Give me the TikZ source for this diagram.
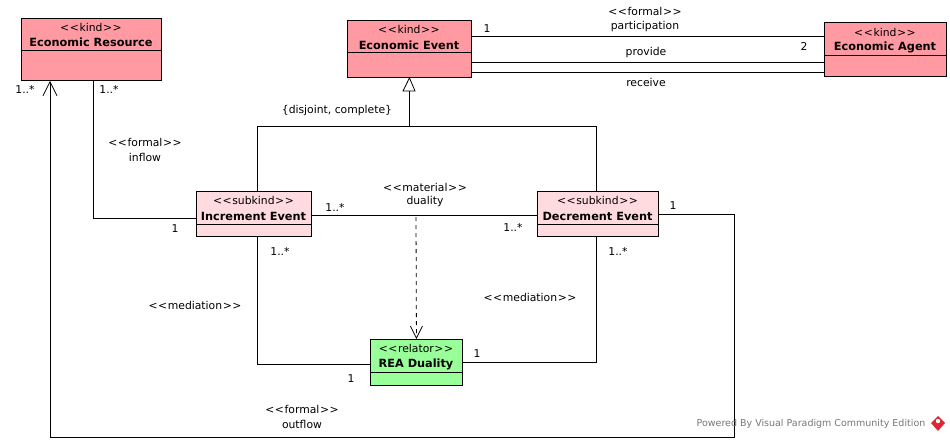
\documentclass[tikz,border=0pt]{standalone}
\usepackage{fontspec}
\setmainfont{DejaVu Sans}
\usetikzlibrary{arrows.meta}
\definecolor{kindfill}{RGB}{255,154,162}
\definecolor{subfill}{RGB}{255,218,222}
\definecolor{relfill}{RGB}{153,255,153}
\definecolor{wmgray}{RGB}{120,120,120}
\definecolor{wmred}{RGB}{220,40,50}
\newcommand{\stlt}{<\kern0.6pt{}<\kern0.6pt{}}
\newcommand{\stgt}{\kern0.6pt{}>\kern0.6pt{}>}
\begin{document}
\begin{tikzpicture}[x=1pt,y=-1pt,
  box/.style={draw=black,line width=0.9pt,anchor=north west,inner sep=0pt},
  kindbox/.style={box,fill=kindfill},
  subbox/.style={box,fill=subfill},
  relbox/.style={box,fill=relfill},
  ster/.style={font=\fontsize{10.8}{12}\selectfont,inner sep=0pt},
  cname/.style={font=\fontsize{11.3}{12}\selectfont\bfseries,inner sep=0pt},
  lbl/.style={font=\fontsize{10.8}{12}\selectfont,inner sep=0pt},
  conn/.style={draw=black,line width=0.8pt},
  every node/.append style={text=black}]
\useasboundingbox (0,0) rectangle (950,441);
\fill[white] (0,0) rectangle (950,441);

% ---- classes ----
\node[kindbox,minimum width=140pt,minimum height=62pt] (er) at (21,18) {};
\draw[line width=0.9pt] (21,50) -- (161,50);
\node[ster] (erS) at (91,27) {\stlt kind\stgt};
\node[cname] (erN) at (91,42) {Economic Resource};

\node[kindbox,minimum width=124pt,minimum height=57pt] (ee) at (347,20) {};
\draw[line width=0.9pt] (347,52) -- (471,52);
\node[ster] (eeS) at (409,29) {\stlt kind\stgt};
\node[cname] (eeN) at (409,45) {Economic Event};

\node[kindbox,minimum width=122pt,minimum height=54pt] (ea) at (824,22) {};
\draw[line width=0.9pt] (824,55) -- (946,55);
\node[ster] (eaS) at (885,32) {\stlt kind\stgt};
\node[cname] (eaN) at (885,47) {Economic Agent};

\node[subbox,minimum width=115pt,minimum height=45pt] (ie) at (196,191) {};
\draw[line width=0.9pt] (196,224) -- (311,224);
\node[ster] (ieS) at (253.5,200) {\stlt subkind\stgt};
\node[cname] (ieN) at (253.5,216) {Increment Event};

\node[subbox,minimum width=121pt,minimum height=45pt] (de) at (537,191) {};
\draw[line width=0.9pt] (537,224) -- (658,224);
\node[ster] (deS) at (597.5,200) {\stlt subkind\stgt};
\node[cname] (deN) at (597.5,216) {Decrement Event};

\node[relbox,minimum width=92pt,minimum height=46pt] (rd) at (370,339) {};
\draw[line width=0.9pt] (370,372) -- (462,372);
\node[ster] (rdS) at (416,348) {\stlt relator\stgt};
\node[cname] (rdN) at (416,364) {REA Duality};

% ---- associations EE - EA ----
\draw[conn] (471,36 -| ee.east) -- (824,36 -| ea.west);
\draw[conn] (471,62 -| ee.east) -- (824,62 -| ea.west);
\draw[conn] (471,72 -| ee.east) -- (824,72 -| ea.west);
\node[lbl] at (487,29) {1};
\node[lbl] at (645,11) {\stlt formal\stgt};
\node[lbl] at (645,27) {participation};
\node[lbl] at (804,46) {2};
\node[lbl] at (646,53) {provide};
\node[lbl] at (646,82) {receive};

% ---- generalization ----
\coordinate (gtop) at (409,91);
\coordinate (gbar) at (409,126);
\draw[conn] (gtop) -- (gbar);
\draw[conn] (ie.north -| 257,0) -- (257,126) -- (596,126) -- (de.north -| 596,0);
\draw[line width=0.8pt,fill=white] (ee.south) -- (403,91) -- (415,91) -- cycle;
\node[lbl] at (337,111) {\{disjoint, complete\}};

% ---- inflow ----
\draw[conn] (er.south -| 93,0) -- (93,218) -- (ie.west |- 0,218);
\node[lbl] at (109,89) {1..*};
\node[lbl] at (145,142) {\stlt formal\stgt};
\node[lbl] at (145,157) {inflow};
\node[lbl] at (175,229) {1};

% ---- outflow ----
\draw[conn,-{Straight Barb[length=14pt,width=14pt,line width=0.8pt]}] (de.east |- 0,214) -- (734,214) -- (734,437) -- (50,437) -- (er.south -| 50,0);
\node[lbl] at (25,89) {1..*};
\node[lbl] at (673,206) {1};
\node[lbl] at (302,409) {\stlt formal\stgt};
\node[lbl] at (302,424) {outflow};

% ---- duality ----
\draw[conn] (ie.east |- 0,215) -- (de.west |- 0,215);
\node[lbl] at (335,207) {1..*};
\node[lbl] at (425,187) {\stlt material\stgt};
\node[lbl] at (425,202) {duality};
\node[lbl] at (513,227) {1..*};
\coordinate (dstart) at (416,217);
\draw[conn,dash pattern=on 4pt off 4pt,-{Straight Barb[length=12pt,width=12pt,line width=0.8pt]}] (dstart) -- (rd.north);

% ---- mediations ----
\draw[conn] (ie.south -| 257,0) -- (257,364) -- (rd.west |- 0,364);
\node[lbl] at (280,251) {1..*};
\node[lbl] at (195,305) {\stlt mediation\stgt};
\node[lbl] at (351,379) {1};
\draw[conn] (de.south -| 596,0) -- (596,362) -- (rd.east |- 0,362);
\node[lbl] at (618,251) {1..*};
\node[lbl] at (530,297) {\stlt mediation\stgt};
\node[lbl] at (477,354) {1};

% ---- watermark ----
\node[font=\fontsize{9.5}{11}\selectfont,text=wmgray,inner sep=0pt] (wm) at (811,424) {Powered By Visual Paradigm Community Edition};
\fill[wmred] (938,416) -- (945,423) -- (938,431) -- (931,423) -- cycle;
\fill[white] (938,421) circle (2.2pt);
\end{tikzpicture}
\end{document}
